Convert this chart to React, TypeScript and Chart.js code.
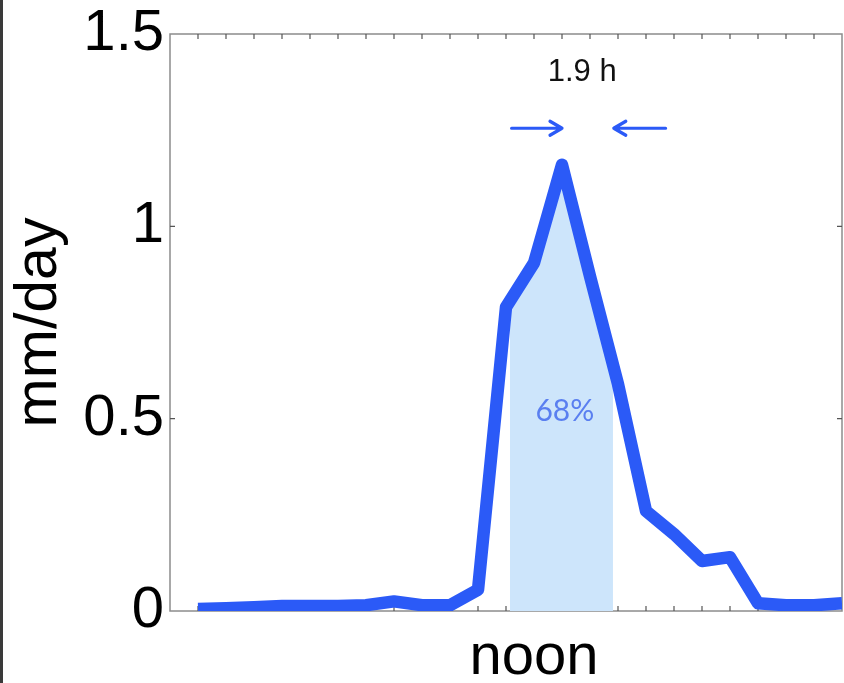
import React, { useEffect, useRef } from 'react';
import { Chart, registerables } from 'chart.js';

Chart.register(...registerables);

// ---- data ----
const hours = [1, 2, 3, 4, 5, 6, 7, 8, 9, 10, 11, 12, 13, 14, 15, 16, 17, 18, 19, 20, 21, 22, 23, 24];
const rainRate = [0.005, 0.007, 0.01, 0.013, 0.013, 0.013, 0.015, 0.025, 0.015, 0.015, 0.055, 0.79, 0.905, 1.16, 0.87, 0.59, 0.26, 0.2, 0.13, 0.14, 0.02, 0.015, 0.015, 0.02];
const yTickValues = [0, 0.5, 1, 1.5];
const noonHour = 13;
const xLabel = 'noon';
const yLabel = 'mm/day';
const shadeStart = 12.14;
const shadeEnd = 15.82;
const shadeLabel = '68%';
const shadeLabelPos = [14.1, 0.52];
const widthLabel = '1.9 h';
const widthLabelPos = [14.72, 1.4];
const arrowY = 1.255;
const arrowRight = [12.2, 14.0];
const arrowLeft = [17.7, 15.85];

const LINE = '#2b5af7';
const FILL = '#cde5fb';
const AXIS = '#8c8c8c';
const FONT = "'Liberation Sans', Arial, Helvetica, sans-serif";

function interp(x: number): number {
  for (let i = 0; i < hours.length - 1; i++) {
    if (x >= hours[i] && x <= hours[i + 1]) {
      const t = (x - hours[i]) / (hours[i + 1] - hours[i]);
      return rainRate[i] + t * (rainRate[i + 1] - rainRate[i]);
    }
  }
  return 0;
}

function shadePoints() {
  const pts = [{ x: shadeStart, y: interp(shadeStart) }];
  hours.forEach((h, i) => {
    if (h > shadeStart && h < shadeEnd) pts.push({ x: h, y: rainRate[i] });
  });
  pts.push({ x: shadeEnd, y: interp(shadeEnd) });
  return pts;
}

const framePlugin = {
  id: 'frame',
  beforeDraw(chart: any) {
    const ctx = chart.ctx;
    ctx.save();
    ctx.fillStyle = '#ffffff';
    ctx.fillRect(0, 0, chart.width, chart.height);
    ctx.fillStyle = '#3a3a3a';
    ctx.fillRect(0, 0, 3, chart.height);
    ctx.restore();
  },
  beforeDatasetsDraw(chart: any) {
    const ctx = chart.ctx;
    const { left, right, top, bottom } = chart.chartArea;
    const xs = chart.scales.x;
    const ys = chart.scales.y;
    ctx.save();
    ctx.strokeStyle = AXIS;
    ctx.lineWidth = 1.5;
    ctx.strokeRect(left, top, right - left, bottom - top);
    ctx.strokeStyle = '#555';
    ctx.lineWidth = 1.2;
    const tl = 5;
    ctx.beginPath();
    for (let h = 1; h < 24; h++) {
      const px = xs.getPixelForValue(h);
      ctx.moveTo(px, bottom);
      ctx.lineTo(px, bottom - tl);
      ctx.moveTo(px, top);
      ctx.lineTo(px, top + tl);
    }
    yTickValues.forEach((v) => {
      if (v <= 0 || v >= 1.5) return;
      const py = ys.getPixelForValue(v);
      ctx.moveTo(left, py);
      ctx.lineTo(left + tl, py);
      ctx.moveTo(right, py);
      ctx.lineTo(right - tl, py);
    });
    ctx.stroke();
    ctx.restore();
  },
  afterDatasetsDraw(chart: any) {
    const ctx = chart.ctx;
    const xs = chart.scales.x;
    const ys = chart.scales.y;
    ctx.save();
    // shaded-area label
    ctx.fillStyle = '#5a7ff0';
    ctx.font = "30px Lato, 'Open Sans', sans-serif";
    ctx.textAlign = 'center';
    ctx.textBaseline = 'middle';
    ctx.fillText(shadeLabel, xs.getPixelForValue(shadeLabelPos[0]), ys.getPixelForValue(shadeLabelPos[1]));
    // width label
    ctx.fillStyle = '#111';
    ctx.font = `31px ${FONT}`;
    ctx.fillText(widthLabel, xs.getPixelForValue(widthLabelPos[0]), ys.getPixelForValue(widthLabelPos[1]));
    // arrows
    const ay = ys.getPixelForValue(arrowY);
    const drawArrow = (from: number, to: number) => {
      const x1 = xs.getPixelForValue(from);
      const x2 = xs.getPixelForValue(to);
      const dir = Math.sign(x2 - x1);
      ctx.strokeStyle = LINE;
      ctx.lineWidth = 3.2;
      ctx.lineCap = 'round';
      ctx.lineJoin = 'round';
      ctx.beginPath();
      ctx.moveTo(x1, ay);
      ctx.lineTo(x2, ay);
      ctx.moveTo(x2 - dir * 12, ay - 7);
      ctx.lineTo(x2, ay);
      ctx.lineTo(x2 - dir * 12, ay + 7);
      ctx.stroke();
    };
    drawArrow(arrowRight[0], arrowRight[1]);
    drawArrow(arrowLeft[0], arrowLeft[1]);
    ctx.restore();
  },
};

export default function App() {
  const canvasRef = useRef<HTMLCanvasElement | null>(null);

  useEffect(() => {
    document.body.style.margin = '0';
    const canvas = canvasRef.current;
    if (!canvas) return;
    const chart = new Chart(canvas, {
      type: 'line',
      data: {
        datasets: [
          {
            label: 'rain',
            data: hours.map((h, i) => ({ x: h, y: rainRate[i] })),
            borderColor: LINE,
            borderWidth: 12.5,
            borderJoinStyle: 'round',
            borderCapStyle: 'butt',
            pointRadius: 0,
            tension: 0,
            fill: false,
            order: 0,
          },
          {
            label: 'shade',
            data: shadePoints(),
            borderWidth: 0,
            borderColor: 'rgba(0,0,0,0)',
            backgroundColor: FILL,
            pointRadius: 0,
            tension: 0,
            fill: 'origin',
            order: 1,
          },
        ],
      },
      options: {
        animation: false,
        responsive: true,
        maintainAspectRatio: false,
        layout: { padding: { top: 34, right: 2, left: 0, bottom: 0 } },
        plugins: {
          legend: { display: false },
          tooltip: { enabled: false },
        },
        scales: {
          x: {
            type: 'linear',
            min: 0,
            max: 24,
            grid: { display: false, drawTicks: false },
            border: { display: false },
            afterBuildTicks: (s: any) => {
              s.ticks = hours.map((h) => ({ value: h }));
            },
            afterFit: (s: any) => {
              s.height = 72;
              s.paddingLeft = 0;
              s.paddingRight = 0;
            },
            ticks: {
              autoSkip: false,
              maxRotation: 0,
              padding: 12,
              color: '#000',
              font: { family: FONT, size: 58 },
              callback: (v: any) => (v === noonHour ? xLabel : ''),
            },
          },
          y: {
            min: 0,
            max: 1.5,
            grid: { display: false, drawTicks: false },
            border: { display: false },
            afterBuildTicks: (s: any) => {
              s.ticks = yTickValues.map((v) => ({ value: v }));
            },
            afterFit: (s: any) => {
              s.width = 170;
              s.paddingTop = 0;
              s.paddingBottom = 0;
            },
            ticks: {
              padding: 6,
              color: '#000',
              font: { family: FONT, size: 58 },
              callback: (v: any) => String(v),
            },
            title: {
              display: true,
              text: yLabel,
              color: '#000',
              padding: { top: 4, bottom: 0 },
              font: { family: FONT, size: 59 },
            },
          },
        },
      },
      plugins: [framePlugin],
    });
    return () => chart.destroy();
  }, []);

  return (
    <div style={{ width: 844, height: 683, position: 'relative' }}>
      <canvas ref={canvasRef} />
    </div>
  );
}
